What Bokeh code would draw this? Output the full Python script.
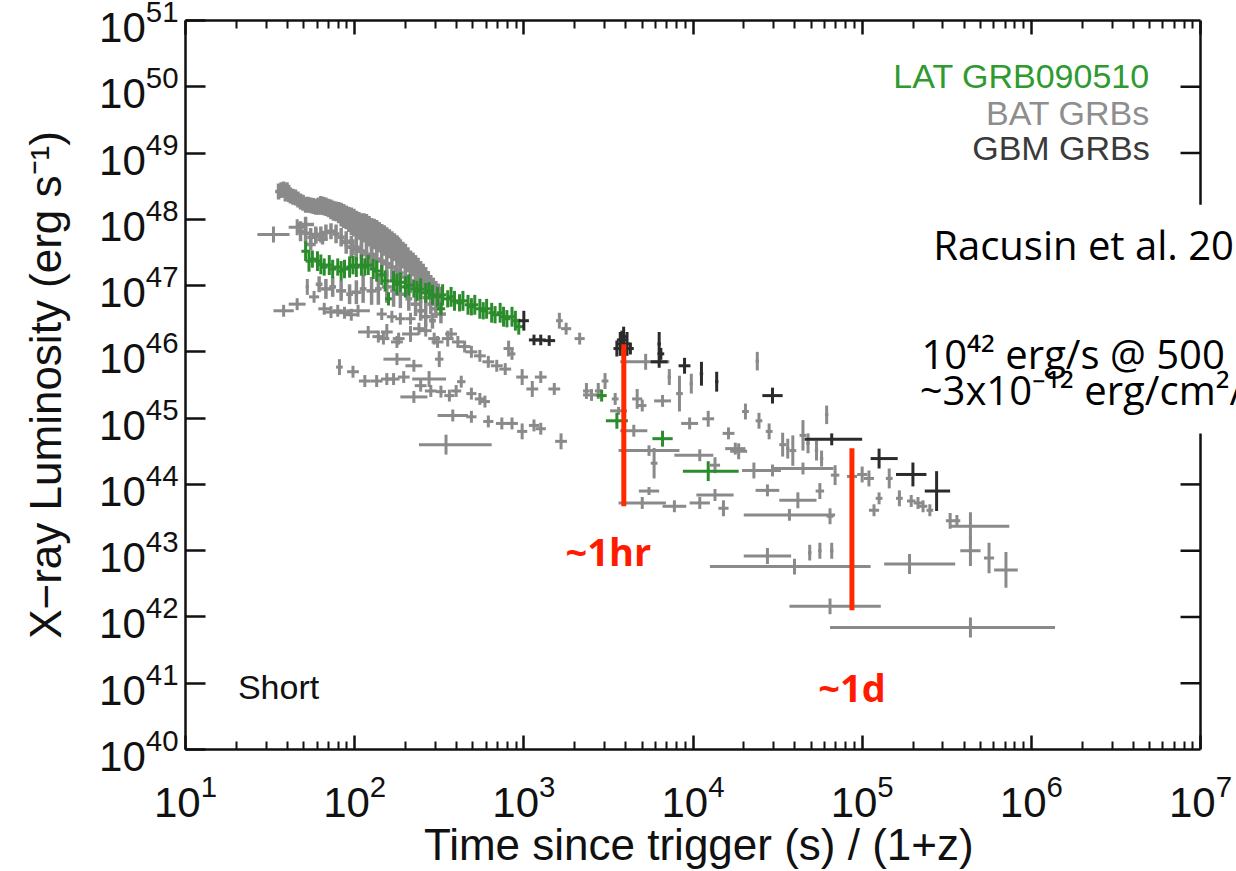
import numpy as np
from bokeh.plotting import figure
from bokeh.models import FixedTicker, LogAxis, LogTickFormatter, CustomJSTickFormatter, Label
from bokeh.embed import file_html
from bokeh.resources import INLINE

# ---------------- data (log10 of time [s/(1+z)] and log10 of luminosity [erg/s]) ----------------
# BAT GRBs: dense bright burst (symmetric time errors, dex)
bat1_logt = [1.55, 1.58, 1.60, 1.62, 1.65, 1.68, 1.71, 1.74, 1.77, 1.80,
             1.83, 1.86, 1.89, 1.92, 1.95, 1.98, 2.01, 2.04, 2.07, 2.10,
             2.13, 2.16, 2.19, 2.22, 2.25, 2.27, 2.30, 2.33, 2.36, 2.39,
             2.42, 2.45, 2.48, 2.51,
             1.71, 1.77, 1.74, 1.81, 1.95, 1.99, 2.04, 2.10,
             1.79, 1.83, 1.87, 1.92, 1.97, 2.01, 2.05, 2.10, 2.14, 2.19,
             2.23, 2.27, 2.32, 2.36, 2.39, 2.42, 2.46,
             1.565, 1.59, 1.61, 1.635, 1.665, 1.695, 1.725, 1.755, 1.785, 1.815,
             1.845, 1.875, 1.905, 1.935, 1.965, 1.995, 2.025, 2.055, 2.085, 2.115,
             2.145, 2.175, 2.205, 2.235, 2.26, 2.285, 2.315, 2.345, 2.375, 2.405,
             2.435, 2.465, 2.495,
             1.68, 1.74, 1.80, 1.86, 1.92, 1.98, 2.04, 2.10, 2.16, 2.22,
             2.27, 2.33, 2.39, 2.45, 2.51,
             1.71, 1.77, 1.83, 1.89, 1.95, 2.01, 2.07, 2.13, 2.19, 2.25,
             2.30, 2.36, 2.42, 2.48]
bat1_logL = [48.42, 48.45, 48.42, 48.36, 48.33, 48.27, 48.22, 48.21, 48.19, 48.21,
             48.19, 48.15, 48.12, 48.07, 48.03, 47.97, 47.92, 47.88, 47.85, 47.79,
             47.76, 47.70, 47.65, 47.61, 47.55, 47.49, 47.43, 47.35, 47.28, 47.19,
             47.10, 47.01, 46.92, 46.83,
             47.92, 47.77, 47.62, 47.70, 47.67, 47.58, 47.52, 47.47,
             47.02, 46.95, 46.98, 46.92, 46.87, 46.90, 46.95, 46.92, 46.95, 46.98,
             46.92, 46.87, 46.80, 46.72, 46.62, 46.53, 46.47,
             48.44, 48.40, 48.39, 48.34, 48.30, 48.25, 48.22, 48.20, 48.20, 48.20,
             48.17, 48.13, 48.10, 48.05, 48.00, 47.95, 47.90, 47.87, 47.82, 47.78,
             47.73, 47.68, 47.63, 47.58, 47.52, 47.46, 47.39, 47.32, 47.24, 47.15,
             47.06, 46.97, 46.88,
             47.82, 47.73, 47.77, 47.82, 47.73, 47.58, 47.52, 47.43, 47.37, 47.28,
             47.19, 47.07, 46.92, 46.72, 46.57,
             47.79, 47.75, 47.80, 47.78, 47.65, 47.55, 47.47, 47.40, 47.33, 47.23,
             47.13, 47.00, 46.82, 46.65]
bat1_terr = [0.02, 0.025, 0.02, 0.02, 0.025, 0.02, 0.02, 0.025, 0.02, 0.02,
             0.025, 0.02, 0.02, 0.025, 0.02, 0.02, 0.025, 0.02, 0.02, 0.025,
             0.02, 0.02, 0.025, 0.02, 0.02, 0.025, 0.02, 0.02, 0.025, 0.02,
             0.02, 0.025, 0.02, 0.02,
             0.05, 0.04, 0.03, 0.03, 0.03, 0.04, 0.04, 0.04,
             0.02, 0.03, 0.02, 0.03, 0.02, 0.03, 0.02, 0.03, 0.02, 0.03,
             0.02, 0.03, 0.02, 0.03, 0.02, 0.03, 0.02,
             0.02, 0.025, 0.02, 0.02, 0.025, 0.02, 0.02, 0.025, 0.02, 0.02,
             0.025, 0.02, 0.02, 0.025, 0.02, 0.02, 0.025, 0.02, 0.02, 0.025,
             0.02, 0.02, 0.025, 0.02, 0.02, 0.025, 0.02, 0.02, 0.025, 0.02,
             0.02, 0.025, 0.02,
             0.025, 0.02, 0.03, 0.025, 0.02, 0.03, 0.025, 0.02, 0.03, 0.025,
             0.02, 0.03, 0.025, 0.02, 0.03,
             0.02, 0.03, 0.025, 0.02, 0.03, 0.025, 0.02, 0.03, 0.025, 0.02,
             0.03, 0.025, 0.02, 0.03]
bat1_Lerr = [0.12, 0.12, 0.14, 0.12, 0.12, 0.12, 0.12, 0.12, 0.12, 0.14,
             0.14, 0.15, 0.15, 0.18, 0.18, 0.21, 0.21, 0.21, 0.23, 0.23,
             0.23, 0.23, 0.23, 0.21, 0.21, 0.21, 0.20, 0.18, 0.18, 0.18,
             0.18, 0.15, 0.15, 0.15,
             0.12, 0.12, 0.09, 0.08, 0.09, 0.12, 0.12, 0.12,
             0.12, 0.15, 0.15, 0.15, 0.15, 0.18, 0.21, 0.21, 0.24, 0.24,
             0.24, 0.21, 0.18, 0.18, 0.15, 0.15, 0.12,
             0.12, 0.13, 0.13, 0.12, 0.12, 0.12, 0.12, 0.12, 0.13, 0.14,
             0.14, 0.15, 0.16, 0.18, 0.19, 0.21, 0.21, 0.22, 0.23, 0.23,
             0.23, 0.23, 0.22, 0.21, 0.21, 0.20, 0.19, 0.18, 0.18, 0.18,
             0.16, 0.15, 0.15,
             0.15, 0.14, 0.12, 0.12, 0.14, 0.17, 0.18, 0.18, 0.20, 0.20,
             0.20, 0.18, 0.18, 0.15, 0.14,
             0.15, 0.12, 0.12, 0.14, 0.17, 0.18, 0.18, 0.20, 0.20, 0.20,
             0.18, 0.18, 0.15, 0.14]

# BAT GRBs: other afterglows (time error minus / plus in dex, luminosity error in dex)
bat2_logt = [1.52, 1.66, 1.58, 1.66, 1.72, 1.76, 1.82, 1.86, 1.90, 1.94,
             1.98, 2.02, 2.08, 2.14, 2.17, 2.19, 2.25, 2.26, 2.25, 2.33,
             2.35, 2.38, 2.42, 2.47, 2.49, 2.50, 2.55, 2.57, 2.61, 2.65,
             2.69, 2.74, 2.79, 2.84, 2.89, 2.99, 3.05, 3.10, 3.18, 2.91,
             2.93, 3.21, 3.25, 3.33, 2.16, 2.22, 2.27, 2.33, 1.91, 1.99,
             2.06, 2.13, 2.19, 2.23, 2.29, 2.44, 2.39, 2.45, 2.35, 2.51,
             2.56, 2.60, 2.63, 2.69, 2.74, 2.77, 2.58, 2.69, 2.79, 2.54,
             2.87, 2.93, 2.99, 3.06, 3.10, 3.22, 3.40, 3.37, 3.44, 3.48,
             3.54, 3.56, 3.65, 3.67, 3.72, 3.70, 3.82, 3.92, 3.98, 4.09,
             4.21, 4.04, 4.13, 4.27, 4.31, 4.38, 4.39, 4.45, 4.53, 4.59,
             4.65, 3.77, 3.74, 3.70, 3.89, 4.04, 3.74, 4.13, 4.18, 4.25,
             4.36, 4.47, 4.65, 4.44, 4.62, 4.57, 4.75, 4.81, 4.44, 4.60,
             4.81, 5.64, 4.69, 4.75, 4.82, 4.79, 4.56, 4.68, 4.73, 4.76,
             4.84, 4.94, 5.00, 5.04, 5.16, 5.07, 5.10, 5.22, 5.29, 5.33,
             5.36, 5.40, 5.52, 5.56, 5.64, 5.64, 5.75, 5.85, 5.28, 3.86,
             3.99]
bat2_logL = [47.77, 47.88, 46.62, 46.72, 46.98, 46.83, 46.65, 46.60, 46.62, 46.59,
             46.56, 46.62, 46.30, 46.23, 46.20, 46.30, 46.15, 46.20, 45.89, 46.27,
             45.79, 46.35, 46.32, 46.20, 46.15, 45.89, 46.20, 46.27, 46.15, 46.08,
             46.00, 45.94, 45.85, 45.79, 45.74, 45.62, 45.44, 45.62, 45.44, 46.05,
             45.97, 46.47, 46.35, 46.20, 46.57, 46.53, 46.50, 46.50, 45.77, 45.70,
             45.56, 45.56, 45.59, 45.59, 45.62, 45.59, 45.49, 45.41, 45.32, 45.40,
             45.34, 45.41, 45.55, 45.37, 45.29, 45.25, 45.04, 45.02, 44.95, 44.60,
             44.92, 44.92, 44.80, 44.89, 44.84, 44.65, 45.35, 45.41, 45.41, 45.56,
             45.29, 45.11, 44.81, 45.29, 45.85, 45.19, 45.26, 45.37, 44.92, 44.99,
             44.77, 44.44, 44.29, 44.50, 45.10, 45.86, 44.96, 44.80, 44.60, 44.51,
             44.74, 44.32, 43.90, 43.72, 43.67, 43.72, 44.51, 43.84, 43.64, 44.54,
             44.21, 44.21, 44.24, 43.91, 43.76, 43.54, 43.90, 43.52, 42.92, 42.76,
             42.16, 41.84, 42.97, 43.00, 43.00, 45.05, 44.54, 44.62, 44.51, 44.39,
             44.14, 44.12, 44.15, 44.09, 44.09, 43.61, 43.79, 43.79, 43.75, 43.72,
             43.67, 43.61, 43.45, 43.45, 43.37, 43.00, 42.89, 42.71, 42.80, 45.62,
             45.52]
bat2_tlo = [0.095, 0.05, 0.06, 0.05, 0.01, 0.03, 0.035, 0.035, 0.03, 0.035,
            0.035, 0.07, 0.06, 0.035, 0.035, 0.035, 0.035, 0.035, 0.08, 0.05,
            0.05, 0.035, 0.035, 0.035, 0.035, 0.025, 0.035, 0.035, 0.035, 0.035,
            0.035, 0.035, 0.035, 0.035, 0.035, 0.035, 0.035, 0.035, 0.035, 0.03,
            0.02, 0.02, 0.03, 0.03, 0.03, 0.03, 0.03, 0.03, 0.02, 0.035,
            0.035, 0.035, 0.035, 0.035, 0.035, 0.10, 0.035, 0.035, 0.08, 0.03,
            0.03, 0.03, 0.025, 0.03, 0.03, 0.03, 0.09, 0.03, 0.03, 0.16,
            0.035, 0.035, 0.03, 0.03, 0.03, 0.035, 0.05, 0.02, 0.02, 0.02,
            0.02, 0.05, 0.08, 0.03, 0.15, 0.025, 0.05, 0.02, 0.05, 0.035,
            0.035, 0.15, 0.03, 0.05, 0.02, 0.01, 0.02, 0.02, 0.02, 0.02,
            0.02, 0.02, 0.06, 0.14, 0.07, 0.06, 0.18, 0.11, 0.03, 0.06,
            0.07, 0.05, 0.18, 0.07, 0.11, 0.27, 0.025, 0.02, 0.14, 0.50,
            0.24, 0.83, 0.01, 0.01, 0.01, 0.01, 0.01, 0.01, 0.01, 0.01,
            0.025, 0.03, 0.03, 0.03, 0.02, 0.03, 0.02, 0.02, 0.025, 0.025,
            0.025, 0.02, 0.025, 0.02, 0.12, 0.06, 0.03, 0.07, 0.15, 0.01,
            0.01]
bat2_thi = [0.095, 0.05, 0.06, 0.05, 0.01, 0.03, 0.035, 0.035, 0.03, 0.035,
            0.035, 0.07, 0.06, 0.035, 0.035, 0.035, 0.035, 0.035, 0.08, 0.05,
            0.05, 0.035, 0.035, 0.035, 0.035, 0.025, 0.035, 0.035, 0.035, 0.035,
            0.035, 0.035, 0.035, 0.035, 0.035, 0.035, 0.035, 0.035, 0.035, 0.03,
            0.02, 0.02, 0.03, 0.03, 0.03, 0.03, 0.03, 0.03, 0.02, 0.035,
            0.035, 0.035, 0.035, 0.035, 0.035, 0.10, 0.035, 0.035, 0.08, 0.03,
            0.03, 0.03, 0.025, 0.03, 0.03, 0.03, 0.09, 0.03, 0.03, 0.27,
            0.035, 0.035, 0.03, 0.03, 0.03, 0.035, 0.05, 0.02, 0.02, 0.02,
            0.02, 0.05, 0.08, 0.03, 0.14, 0.025, 0.05, 0.02, 0.05, 0.035,
            0.035, 0.08, 0.03, 0.05, 0.02, 0.01, 0.02, 0.02, 0.02, 0.02,
            0.02, 0.02, 0.06, 0.14, 0.07, 0.06, 0.18, 0.11, 0.03, 0.06,
            0.07, 0.05, 0.18, 0.07, 0.11, 0.27, 0.025, 0.02, 0.14, 0.45,
            0.30, 0.50, 0.01, 0.01, 0.01, 0.01, 0.01, 0.01, 0.01, 0.01,
            0.025, 0.03, 0.03, 0.03, 0.02, 0.03, 0.02, 0.02, 0.025, 0.025,
            0.025, 0.02, 0.025, 0.02, 0.23, 0.06, 0.03, 0.07, 0.27, 0.01,
            0.01]
bat2_Lerr = [0.12, 0.12, 0.09, 0.09, 0.12, 0.09, 0.09, 0.09, 0.09, 0.09,
             0.09, 0.09, 0.09, 0.09, 0.09, 0.12, 0.09, 0.09, 0.09, 0.12,
             0.09, 0.09, 0.09, 0.09, 0.09, 0.12, 0.12, 0.09, 0.09, 0.09,
             0.09, 0.09, 0.09, 0.09, 0.09, 0.12, 0.12, 0.09, 0.09, 0.12,
             0.09, 0.12, 0.09, 0.09, 0.09, 0.09, 0.09, 0.09, 0.12, 0.09,
             0.09, 0.09, 0.09, 0.09, 0.09, 0.12, 0.09, 0.09, 0.09, 0.09,
             0.09, 0.09, 0.09, 0.09, 0.09, 0.09, 0.09, 0.09, 0.09, 0.15,
             0.09, 0.09, 0.12, 0.09, 0.09, 0.12, 0.09, 0.12, 0.12, 0.12,
             0.09, 0.06, 0.09, 0.15, 0.12, 0.09, 0.09, 0.27, 0.09, 0.12,
             0.09, 0.09, 0.12, 0.12, 0.12, 0.14, 0.12, 0.12, 0.18, 0.23,
             0.23, 0.23, 0.06, 0.09, 0.09, 0.09, 0.08, 0.09, 0.12, 0.09,
             0.12, 0.09, 0.09, 0.09, 0.12, 0.09, 0.12, 0.12, 0.12, 0.12,
             0.12, 0.15, 0.12, 0.12, 0.12, 0.14, 0.15, 0.15, 0.15, 0.12,
             0.15, 0.12, 0.12, 0.12, 0.15, 0.09, 0.09, 0.12, 0.09, 0.09,
             0.09, 0.09, 0.12, 0.09, 0.21, 0.23, 0.23, 0.27, 0.15, 0.12,
             0.15]

# LAT GRB090510
lat_logt = [1.71, 1.73, 1.75, 1.78, 1.80, 1.82, 1.85, 1.87, 1.90, 1.92,
            1.94, 1.97, 1.99, 2.01, 2.04, 2.06, 2.08, 2.11, 2.13, 2.16,
            2.18, 2.20, 2.23, 2.25, 2.27, 2.30, 2.32, 2.35, 2.37, 2.39,
            2.42, 2.44, 2.46, 2.49, 2.51, 2.52, 2.55, 2.57, 2.59, 2.62,
            2.64, 2.67, 2.69, 2.71, 2.74, 2.76, 2.78, 2.81, 2.83, 2.86,
            2.88, 2.90, 2.93, 2.95, 2.97, 3.46, 3.55, 3.82, 4.09]
lat_logL = [47.52, 47.37, 47.40, 47.37, 47.32, 47.28, 47.31, 47.25, 47.28, 47.22,
            47.25, 47.28, 47.31, 47.28, 47.31, 47.28, 47.31, 47.25, 47.22, 47.16,
            47.07, 46.80, 47.07, 47.02, 47.05, 46.98, 47.01, 46.95, 46.92, 46.95,
            46.89, 46.92, 46.86, 46.83, 46.65, 46.86, 46.80, 46.83, 46.77, 46.74,
            46.77, 46.71, 46.68, 46.71, 46.65, 46.62, 46.65, 46.59, 46.56, 46.59,
            46.53, 46.50, 46.53, 46.47, 46.38, 45.34, 44.96, 44.69, 44.20]
lat_tlo = [0.025, 0.02, 0.025, 0.02, 0.025, 0.02, 0.025, 0.02, 0.025, 0.02,
           0.025, 0.02, 0.025, 0.02, 0.025, 0.02, 0.025, 0.02, 0.025, 0.02,
           0.025, 0.02, 0.025, 0.02, 0.025, 0.02, 0.025, 0.02, 0.025, 0.02,
           0.025, 0.02, 0.025, 0.02, 0.025, 0.02, 0.025, 0.02, 0.025, 0.02,
           0.025, 0.02, 0.025, 0.02, 0.025, 0.02, 0.025, 0.02, 0.025, 0.02,
           0.025, 0.02, 0.025, 0.02, 0.025, 0.03, 0.065, 0.06, 0.15]
lat_thi = [0.025, 0.02, 0.025, 0.02, 0.025, 0.02, 0.025, 0.02, 0.025, 0.02,
           0.025, 0.02, 0.025, 0.02, 0.025, 0.02, 0.025, 0.02, 0.025, 0.02,
           0.025, 0.02, 0.025, 0.02, 0.025, 0.02, 0.025, 0.02, 0.025, 0.02,
           0.025, 0.02, 0.025, 0.02, 0.025, 0.02, 0.025, 0.02, 0.025, 0.02,
           0.025, 0.02, 0.025, 0.02, 0.025, 0.02, 0.025, 0.02, 0.025, 0.02,
           0.025, 0.02, 0.025, 0.02, 0.025, 0.03, 0.065, 0.06, 0.18]
lat_Lerr = [0.15, 0.16, 0.13, 0.15, 0.15, 0.13, 0.15, 0.14, 0.13, 0.15,
            0.14, 0.16, 0.14, 0.15, 0.16, 0.13, 0.15, 0.15, 0.16, 0.15,
            0.16, 0.10, 0.15, 0.16, 0.15, 0.16, 0.16, 0.13, 0.15, 0.16,
            0.15, 0.13, 0.15, 0.15, 0.10, 0.16, 0.13, 0.15, 0.15, 0.13,
            0.15, 0.15, 0.13, 0.15, 0.15, 0.13, 0.15, 0.15, 0.13, 0.15,
            0.15, 0.13, 0.15, 0.15, 0.12, 0.09, 0.12, 0.12, 0.15]

# GBM GRBs
gbm_logt = [3.00, 3.06, 3.10, 3.15, 3.57, 3.59, 3.61, 3.55, 3.63, 3.58,
            3.80, 3.81, 3.80, 3.95, 4.05, 4.14, 4.47, 4.82, 5.10, 5.30, 5.44]
gbm_logL = [46.47, 46.18, 46.18, 46.17, 46.12, 46.23, 46.12, 46.05, 46.05, 46.18,
            46.12, 45.97, 45.85, 45.79, 45.67, 45.55, 45.34, 44.68, 44.39, 44.15, 43.90]
gbm_tlo = [0.03, 0.03, 0.03, 0.035, 0.02, 0.025, 0.02, 0.02, 0.02, 0.03,
           0.01, 0.02, 0.05, 0.035, 0.01, 0.01, 0.06, 0.16, 0.05, 0.10, 0.07]
gbm_thi = [0.03, 0.03, 0.03, 0.035, 0.02, 0.025, 0.02, 0.02, 0.02, 0.03,
           0.01, 0.02, 0.05, 0.035, 0.01, 0.01, 0.06, 0.18, 0.11, 0.08, 0.08]
gbm_Lerr = [0.15, 0.08, 0.08, 0.08, 0.18, 0.15, 0.18, 0.12, 0.09, 0.14,
            0.18, 0.09, 0.09, 0.12, 0.18, 0.15, 0.12, 0.09, 0.15, 0.18, 0.30]

# red markers (~1 hr and ~1 d)
mark_t = [3.9e3, 8.7e4]
mark_Llo = [4.7e43, 1.26e42]
mark_Lhi = [1.3e46, 3.5e44]

x_ticks = [1e1, 1e2, 1e3, 1e4, 1e5, 1e6, 1e7]
x_minor = [m * 10.0 ** k for k in range(1, 7) for m in range(2, 10)]
y_ticks = [10.0 ** k for k in range(40, 52)]

# the slide note hides the right-hand frame between these luminosities
note_gap = (10 ** 44.77, 10 ** 48.22)

FONT = "Liberation Sans"
SLIDE_FONT = "Open Sans"
X_MAX = 1e7

# the plot area runs on to the right edge of the slide (the note text overflows it)
p = figure(width=1236, height=871, x_axis_type="log", y_axis_type="log",
           x_range=(1e1, 10 ** 7.2128), y_range=(1e40, 1e51),
           output_backend="svg", toolbar_location=None,
           min_border_left=185, min_border_right=0, min_border_top=20, min_border_bottom=118)
p.grid.visible = False
p.outline_line_color = None
p.background_fill_color = "white"
p.border_fill_color = "white"


def crosses(logt, logL, tlo, thi, Lerr, color, lw=3):
    lt = np.array(logt); lL = np.array(logL)
    t = 10 ** lt; L = 10 ** lL
    x0 = 10 ** (lt - np.array(tlo)); x1 = 10 ** (lt + np.array(thi))
    y0 = 10 ** (lL - np.array(Lerr)); y1 = 10 ** (lL + np.array(Lerr))
    p.segment(x0, L, x1, L, line_color=color, line_width=lw)
    p.segment(t, y0, t, y1, line_color=color, line_width=lw)


GRAY = "#8a8a8a"
crosses(bat2_logt, bat2_logL, bat2_tlo, bat2_thi, bat2_Lerr, GRAY)
crosses(bat1_logt, bat1_logL, bat1_terr, bat1_terr, bat1_Lerr, GRAY, 3.5)
crosses(lat_logt, lat_logL, lat_tlo, lat_thi, lat_Lerr, "#2a8c2a", 3)
crosses(gbm_logt, gbm_logL, gbm_tlo, gbm_thi, gbm_Lerr, "#2b2b2b")

p.segment(mark_t, mark_Llo, mark_t, mark_Lhi, line_color="#ff2a00", line_width=5)


def style_axis(ax, tick_len, minor):
    ax.axis_line_width = 2.5
    ax.axis_line_color = "#111111"
    ax.major_tick_line_width = 2.5
    ax.major_tick_line_color = "#111111"
    ax.minor_tick_line_width = 2
    ax.minor_tick_line_color = "#111111"
    ax.major_tick_in = tick_len
    ax.major_tick_out = 0
    ax.minor_tick_in = 8 if minor else 0
    ax.minor_tick_out = 0
    ax.major_label_text_font = FONT
    ax.major_label_text_font_size = "42px"
    ax.major_label_text_color = "#111111"
    ax.axis_label_text_font = FONT
    ax.axis_label_text_font_size = "44px"
    ax.axis_label_text_font_style = "normal"
    ax.axis_label_text_color = "#111111"


xa = p.xaxis[0]
xa.ticker = FixedTicker(ticks=x_ticks, minor_ticks=x_minor)
xa.formatter = LogTickFormatter()
xa.bounds = (x_ticks[0], X_MAX)
# two trailing no-break spaces keep the title centred under the drawn axis (10 .. 10^7)
xa.axis_label = "Time since trigger (s) / (1+z)\u00a0\u00a0"
style_axis(xa, 14, True)
xa.major_label_standoff = 24
xa.axis_label_standoff = 0

ya = p.yaxis[0]
ya.ticker = FixedTicker(ticks=y_ticks, minor_ticks=[])
ya.formatter = LogTickFormatter()
ya.axis_label = "X\u2212ray Luminosity (erg s\u207b\u00b9)"
style_axis(ya, 20, False)
ya.major_label_standoff = 7
ya.axis_label_standoff = 26

blank = CustomJSTickFormatter(code="return ''")
top = LogAxis(ticker=FixedTicker(ticks=x_ticks, minor_ticks=x_minor), formatter=blank,
              bounds=(x_ticks[0], X_MAX))
style_axis(top, 14, True)
top.major_label_text_font_size = "1px"
top.major_label_standoff = 0
p.add_layout(top, "above")

# right-hand frame at 10^7 (interrupted behind the slide note)
p.segment([X_MAX, X_MAX], [y_ticks[0], note_gap[1]], [X_MAX, X_MAX], [note_gap[0], y_ticks[-1]],
          line_color="#111111", line_width=2.5)
rt = [y for y in y_ticks[1:-1] if y < note_gap[0] or y > note_gap[1]]
p.segment([X_MAX] * len(rt), rt, [10 ** 6.882] * len(rt), rt, line_color="#111111", line_width=2.5)

# legend texts
for txt, yy, col in [("LAT GRB090510", 10 ** 50.17, "#2f9a2f"),
                     ("BAT GRBs", 10 ** 49.60, "#8e8e8e"),
                     ("GBM GRBs", 10 ** 49.08, "#3a3a3a")]:
    p.add_layout(Label(x=10 ** 6.70, y=yy, text=txt, text_align="right", text_baseline="middle",
                       text_font=FONT, text_font_size="34px", text_color=col))

p.add_layout(Label(x=10 ** 1.31, y=10 ** 40.94, text="Short", text_align="left", text_baseline="middle",
                   text_font=FONT, text_font_size="34px", text_color="#111111"))

# slide annotations
for txt, xx, yy in [("Racusin et al. 2011", 10 ** 5.42, 10 ** 47.62),
                    ("10\u2074\u00b2 erg/s @ 500 Mpc", 10 ** 5.35, 10 ** 45.97),
                    ("~3x10\u207b\u00b9\u00b2 erg/cm\u00b2/s", 10 ** 5.34, 10 ** 45.43)]:
    p.add_layout(Label(x=xx, y=yy, text=txt, text_align="left", text_baseline="middle",
                       text_font=SLIDE_FONT, text_font_size="40px", text_color="black"))

p.add_layout(Label(x=10 ** 3.50, y=10 ** 43.0, text="~1hr", text_align="center", text_baseline="middle",
                   text_font=SLIDE_FONT, text_font_size="38px", text_font_style="bold",
                   text_color="#ff1a00"))
p.add_layout(Label(x=10 ** 4.94, y=10 ** 40.94, text="~1d", text_align="center", text_baseline="middle",
                   text_font=SLIDE_FONT, text_font_size="38px", text_font_style="bold",
                   text_color="#ff1a00"))

open("out.html", "w").write(file_html(p, INLINE))
